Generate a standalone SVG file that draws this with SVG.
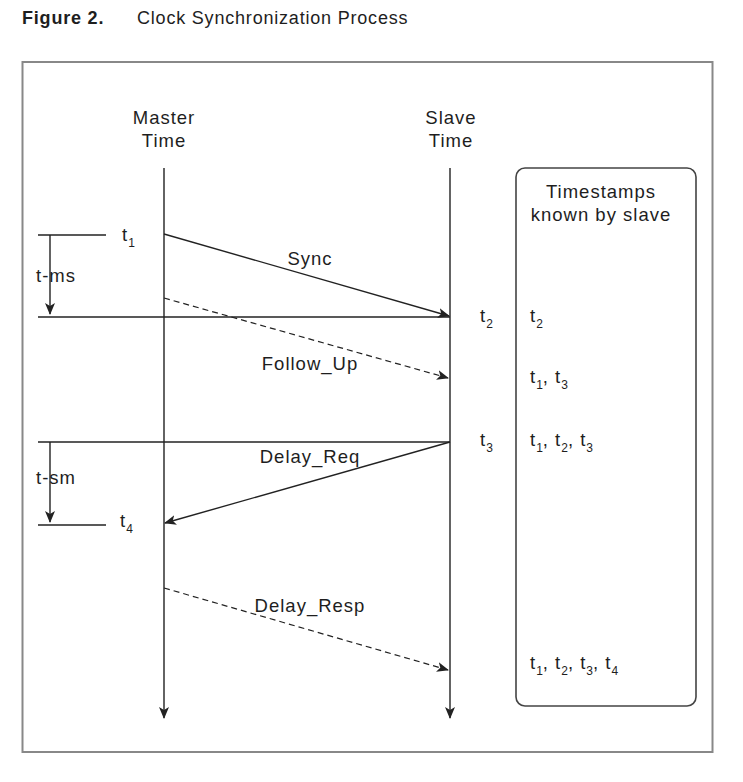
<svg xmlns="http://www.w3.org/2000/svg" width="743" height="782" viewBox="0 0 743 782">
<style>
text{font-family:"Liberation Sans",Arial,sans-serif;fill:#1e1e1e}
.lbl{font-size:18.5px;letter-spacing:1px}
.sub{font-size:12px;letter-spacing:0}
.ln{stroke:#222;stroke-width:1.4;fill:none}
.ds{stroke:#222;stroke-width:1.2;fill:none;stroke-dasharray:6 4}
</style>
<defs>
<marker id="ah" viewBox="0 0 12 10" refX="11" refY="5" markerWidth="12" markerHeight="10" markerUnits="userSpaceOnUse" orient="auto">
<path d="M0,0 L12,5 L0,10 L3,5 Z" fill="#222"/>
</marker>
</defs>
<rect width="743" height="782" fill="#fff"/>
<g id="title">
<text x="22" y="24" style="font-size:18px;font-weight:bold;letter-spacing:0.8px">Figure 2.</text>
<text x="137" y="24" style="font-size:18px;letter-spacing:0.8px">Clock Synchronization Process</text>
</g>
<rect id="frame" x="22.5" y="62" width="690" height="690" fill="none" stroke="#888" stroke-width="2"/>
<g id="master">
<text class="lbl" x="164" y="124" text-anchor="middle">Master</text>
<text class="lbl" x="164" y="147" text-anchor="middle">Time</text>
</g>
<g id="slave">
<text class="lbl" x="451" y="124" text-anchor="middle">Slave</text>
<text class="lbl" x="451" y="147" text-anchor="middle">Time</text>
</g>
<g id="timestamps">
<rect x="516" y="168" width="180" height="538" rx="9" fill="none" stroke="#444" stroke-width="1.6"/>
<text class="lbl" x="601" y="198" text-anchor="middle">Timestamps</text>
<text class="lbl" x="601" y="221" text-anchor="middle">known by slave</text>
<text class="lbl" x="530" y="322">t<tspan class="sub" dy="6">2</tspan></text>
<text class="lbl" x="530" y="383">t<tspan class="sub" dy="6">1</tspan><tspan dy="-6">, t</tspan><tspan class="sub" dy="6">3</tspan></text>
<text class="lbl" x="530" y="446">t<tspan class="sub" dy="6">1</tspan><tspan dy="-6">, t</tspan><tspan class="sub" dy="6">2</tspan><tspan dy="-6">, t</tspan><tspan class="sub" dy="6">3</tspan></text>
<text class="lbl" x="530" y="669">t<tspan class="sub" dy="6">1</tspan><tspan dy="-6">, t</tspan><tspan class="sub" dy="6">2</tspan><tspan dy="-6">, t</tspan><tspan class="sub" dy="6">3</tspan><tspan dy="-6">, t</tspan><tspan class="sub" dy="6">4</tspan></text>
</g>
<g id="labels">
<text class="lbl" x="122" y="241">t<tspan class="sub" dy="6">1</tspan></text>
<text class="lbl" x="120" y="527">t<tspan class="sub" dy="6">4</tspan></text>
<text class="lbl" x="480" y="322">t<tspan class="sub" dy="6">2</tspan></text>
<text class="lbl" x="480" y="446">t<tspan class="sub" dy="6">3</tspan></text>
<text class="lbl" x="36" y="282">t-ms</text>
<text class="lbl" x="36" y="484">t-sm</text>
<text class="lbl" x="310" y="265" text-anchor="middle">Sync</text>
<text class="lbl" x="310" y="370" text-anchor="middle">Follow_Up</text>
<text class="lbl" x="310" y="463" text-anchor="middle">Delay_Req</text>
<text class="lbl" x="310" y="612" text-anchor="middle">Delay_Resp</text>
</g>
<g id="connectors">
<line class="ln" x1="164" y1="168" x2="164" y2="718" marker-end="url(#ah)"/>
<line class="ln" x1="450" y1="168" x2="450" y2="718" marker-end="url(#ah)"/>
<line class="ln" x1="38" y1="235" x2="106" y2="235" stroke="#666"/>
<line class="ln" x1="50" y1="235" x2="50" y2="314" marker-end="url(#ah)"/>
<line class="ln" x1="38" y1="317" x2="450" y2="317"/>
<line class="ln" x1="164" y1="234" x2="449" y2="316" marker-end="url(#ah)"/>
<line class="ds" x1="164" y1="298" x2="448" y2="378" marker-end="url(#ah)"/>
<line class="ln" x1="38" y1="442" x2="450" y2="442"/>
<line class="ln" x1="450" y1="442" x2="165" y2="523" marker-end="url(#ah)"/>
<line class="ln" x1="50" y1="442" x2="50" y2="522" marker-end="url(#ah)"/>
<line class="ln" x1="38" y1="525" x2="106" y2="525"/>
<line class="ds" x1="164" y1="588" x2="448" y2="670" marker-end="url(#ah)"/>
</g>
</svg>
